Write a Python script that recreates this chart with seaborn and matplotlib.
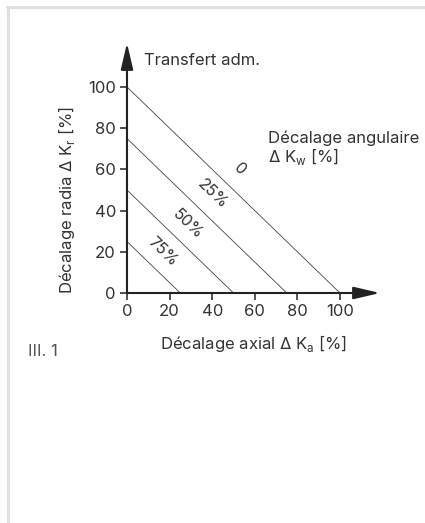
import matplotlib
matplotlib.use("Agg")

import pandas as pd
import matplotlib.pyplot as plt
import seaborn as sns
from matplotlib.lines import Line2D

# ===============================
# data
# ===============================
angular_levels = ["0", "25%", "50%", "75%"]     # Décalage angulaire
radial_max = [100, 75, 50, 25]                  # intercept on the radial axis
axial_max = [100, 75, 50, 25]                   # intercept on the axial axis
label_x = [53, 40, 28.5, 17]                    # where the level labels sit
label_y = [60, 48, 33.5, 20]
ticks = [0, 20, 40, 60, 80, 100]

rows = []
for lvl, r, a in zip(angular_levels, radial_max, axial_max):
    rows.append({"level": lvl, "axial": 0, "radial": r})
    rows.append({"level": lvl, "axial": a, "radial": 0})
df = pd.DataFrame(rows)

sns.set_style("white")
plt.rcParams["font.family"] = ["Inter", "DejaVu Sans"]
txt = "#333333"

fig = plt.figure(figsize=(4.25, 5.23), dpi=100)
ax = fig.add_axes([127 / 425, 1 - 293 / 523, (380 - 127) / 425, (293 - 43) / 523])

sns.lineplot(
    data=df, x="axial", y="radial", units="level", estimator=None,
    color="#444444", linewidth=0.6, ax=ax, legend=False
)

x_end = 100 * (380 - 127) / 213
y_end = 100 * (293 - 43) / 206
ax.set_xlim(0, x_end)
ax.set_ylim(0, y_end)

for s in ["top", "right", "left", "bottom"]:
    ax.spines[s].set_visible(False)

# axes drawn as arrows
arrow = dict(arrowstyle="-|>,head_length=1.07,head_width=0.25", color="#222222",
             lw=1.5, shrinkA=0, shrinkB=0)
ax.annotate("", xy=(x_end, 0), xytext=(0, 0), xycoords="data",
            arrowprops=arrow, annotation_clip=False, fontsize=15)
ax.annotate("", xy=(0, y_end), xytext=(0, 0), xycoords="data",
            arrowprops=arrow, annotation_clip=False, fontsize=15)

ax.set_xticks(ticks)
ax.set_yticks(ticks)
ax.tick_params(axis="both", which="both", direction="out", length=5, width=1.1,
               color="#222222", labelsize=12, labelcolor=txt, pad=3,
               left=True, bottom=True)

ax.set_xlabel("Décalage axial Δ K$_\\mathregular{a}$ [%]", fontsize=12,
              color=txt, labelpad=10)
ax.set_ylabel("Décalage radia Δ K$_\\mathregular{r}$ [%]", fontsize=12,
              color=txt)
ax.yaxis.set_label_coords(-50 / 253, (293 - 200) / 250)

for lvl, lx, ly in zip(angular_levels, label_x, label_y):
    ax.text(lx, ly, lvl, rotation=-44, ha="center", va="center",
            fontsize=11.5, color=txt)

ax.text(8, 113, "Transfert adm.", fontsize=12, color=txt, va="center")
ax.text(66, 70, "Décalage angulaire\nΔ K$_\\mathregular{w}$ [%]", fontsize=12,
        color=txt, va="center", linespacing=1.0)

fig.text(28 / 425, 1 - 352 / 523, "III. 1", fontsize=12, color="#555555",
         va="center")

# light frame on top and left
fig.add_artist(Line2D([7 / 425, 424 / 425], [1 - 7 / 523, 1 - 7 / 523],
                      color="#e0e0e0", lw=2.2, transform=fig.transFigure))
fig.add_artist(Line2D([7.5 / 425, 7.5 / 425], [0, 1 - 7 / 523],
                      color="#e0e0e0", lw=2.2, transform=fig.transFigure))

plt.savefig("out.png", dpi=100)
plt.close()
